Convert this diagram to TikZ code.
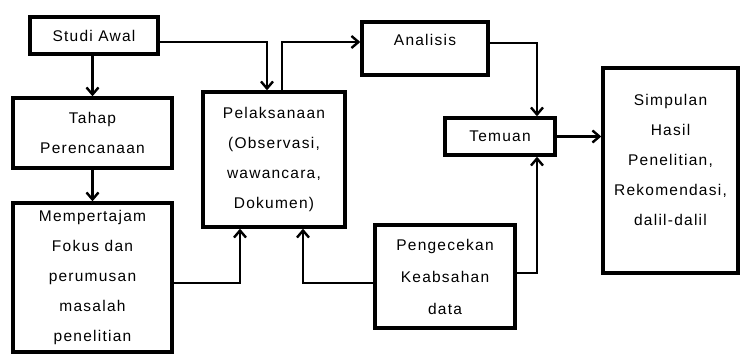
\documentclass[tikz,border=0pt]{standalone}
\usepackage{fontspec}
\setmainfont{Liberation Sans}[LetterSpace=8]
\usetikzlibrary{calc,arrows.meta}
\begin{document}
\begin{tikzpicture}[x=1pt,y=-1pt,
  box/.style={draw=black,line width=3.4pt,fill=white,inner sep=0pt,align=center,
    font=\fontsize{15.5}{30}\selectfont},
  lbl/.style={inner sep=0pt,align=center,font=\fontsize{15.5}{30}\selectfont},
  arr/.style={line width=2.4pt,-{Straight Barb[length=7pt,width=12pt,line width=2.4pt]}}]
\useasboundingbox (0,0) rectangle (740,354);
\node[box,minimum width=128,minimum height=37] (studi) at (94,35.5) {Studi Awal};
\node[box,minimum width=159,minimum height=70] (tahap) at (92.5,133) {Tahap\\Perencanaan};
\node[box,minimum width=159,minimum height=149] (fokus) at (92.5,277.5)
  {Mempertajam\\Fokus dan\\perumusan\\masalah\\penelitian};
\node[box,minimum width=142,minimum height=135] (pelaks) at (274,159.5)
  {Pelaksanaan\\(Observasi,\\wawancara,\\Dokumen)};
\node[box,minimum width=126,minimum height=53] (analisis) at (425,48.5) {};
\node[lbl] (tanalisis) at (425,40) {Analisis};
\node[box,minimum width=110,minimum height=37] (temuan) at (500,136.5) {Temuan};
\node[box,minimum width=135,minimum height=205] (simpulan) at (670.5,170.5) {};
\node[lbl] (tsimpulan) at (670.5,159.5)
  {Simpulan\\Hasil\\Penelitian,\\Rekomendasi,\\dalil-dalil};
\node[box,minimum width=140,minimum height=103,font=\fontsize{15.5}{32}\selectfont] (cek) at (445,276.5)
  {Pengecekan\\Keabsahan\\data};
% connectors
\draw[arr] (studi.south -| tahap.north) -- (tahap.north);
\draw[arr] (tahap.south) -- (fokus.north);
\draw[arr] ($(studi.east)+(0,6.5)$) -| ($(pelaks.north)+(-7,0)$);
\draw[arr] ($(pelaks.north)+(8,0)$) |- ($(analisis.west)+(0,-6.5)$);
\draw[arr] ($(analisis.east)+(0,-5.5)$) -| ($(temuan.north)+(37,0)$);
\draw[arr] (temuan.east) -- (temuan.east -| simpulan.west);
\draw[arr] ($(cek.east)+(0,-3.5)$) -| ($(temuan.south)+(37,0)$);
\draw[arr] ($(cek.west)+(0,6.5)$) -| ($(pelaks.south)+(29,0)$);
\draw[arr,line width=1.8pt] ($(fokus.east)+(0,5.5)$) -| ($(pelaks.south)+(-34,0)$);
\end{tikzpicture}
\end{document}
